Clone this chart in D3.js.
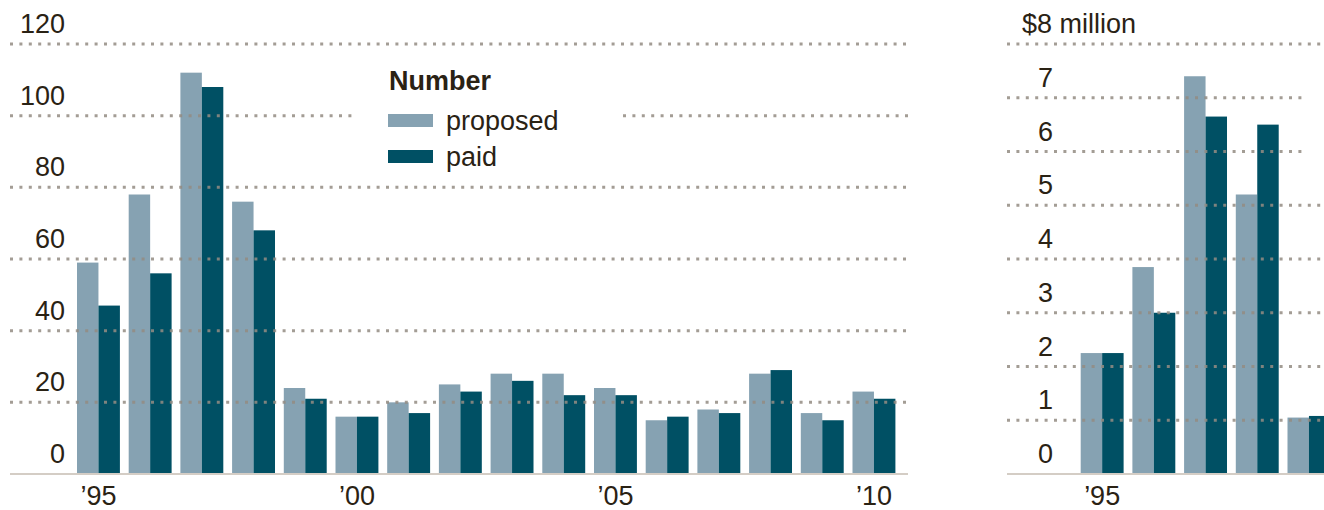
<!DOCTYPE html>
<html>
<head>
<meta charset="utf-8">
<script src="https://cdn.jsdelivr.net/npm/d3@7"></script>
<style>
  body { margin: 0; background: #fff; }
  svg text { font-family: "Liberation Sans", Arial, sans-serif; fill: #2a2214; }
</style>
</head>
<body>
<div id="chart"></div>
<script>
// data
let years = [1995, 1996, 1997, 1998, 1999, 2000, 2001, 2002, 2003, 2004, 2005, 2006, 2007, 2008, 2009, 2010];
let proposedCount = [59, 78, 112, 76, 24, 16, 20, 25, 28, 28, 24, 15, 18, 28, 17, 23];
let paidCount = [47, 56, 108, 68, 21, 16, 17, 23, 26, 22, 22, 16, 17, 29, 15, 21];

// right panel is cut off by the frame: only the first years show
let moneyYears = [1995, 1996, 1997, 1998, 1999];
let proposedMoney = [2.25, 3.85, 7.4, 5.2, 1.05];
let paidMoney = [2.25, 3.0, 6.65, 6.5, 1.08];

let countTicks = [0, 20, 40, 60, 80, 100, 120];
let moneyTicks = [0, 1, 2, 3, 4, 5, 6, 7, 8];
let yearTicks = [1995, 2000, 2005, 2010];
let series = ["proposed", "paid"];
let colors = { proposed: "#86a2b2", paid: "#005064" };

let width = 1324, height = 510;
let fontSize = 27;
let svg = d3.select("#chart").append("svg")
    .attr("width", width)
    .attr("height", height);

let gridColor = "#948c83";
let fmtYear = d => "\u2019" + String(d).slice(2);

function gridLine(g, x1, x2, yy) {
    g.append("line")
        .attr("x1", x1).attr("x2", x2)
        .attr("y1", yy).attr("y2", yy)
        .attr("stroke", gridColor)
        .attr("stroke-width", 3)
        .attr("stroke-dasharray", "3,6.4")
        .attr("opacity", 0.85);
}

function panel(opts) {
    let x = d3.scaleBand().domain(years)
        .range([opts.x0, opts.x0 + years.length * 51.7])
        .paddingInner(0.17).paddingOuter(0.085);
    let x1 = d3.scaleBand().domain(series).range([0, x.bandwidth()]);
    let y = d3.scaleLinear().domain(opts.yDomain).range([474, 44]);

    let rows = opts.cats.map((c, i) => ({ year: c, proposed: opts.proposed[i], paid: opts.paid[i] }));

    let g = svg.append("g");

    // bars
    g.selectAll("g.year")
        .data(rows)
        .enter().append("g")
        .attr("transform", d => `translate(${x(d.year)},0)`)
        .selectAll("rect")
        .data(d => series.map(s => ({ key: s, value: d[s] })))
        .enter().append("rect")
        .attr("x", d => x1(d.key))
        .attr("width", x1.bandwidth())
        .attr("y", d => y(d.value))
        .attr("height", d => y(0) - y(d.value))
        .attr("fill", d => colors[d.key]);

    // dotted gridlines, on top of the bars
    opts.ticks.filter(t => t > 0).forEach(t => {
        let segs = (opts.gridSegs && opts.gridSegs[t]) || [[opts.gridX0, opts.gridX1]];
        segs.forEach(s => gridLine(g, s[0], s[1], y(t)));
    });

    // baseline
    g.append("line")
        .attr("x1", opts.gridX0).attr("x2", opts.gridX1)
        .attr("y1", y(0)).attr("y2", y(0))
        .attr("stroke", "#d4cdc5")
        .attr("stroke-width", 2);

    // y tick labels
    g.selectAll("text.ytick")
        .data(opts.ticks)
        .enter().append("text")
        .attr("x", opts.labelX)
        .attr("y", d => y(d) - 11)
        .attr("text-anchor", "end")
        .attr("font-size", fontSize)
        .text(d => opts.tickText(d));

    // x tick labels
    g.selectAll("text.xtick")
        .data(opts.xTicks)
        .enter().append("text")
        .attr("x", d => x(d) + x.bandwidth() / 2)
        .attr("y", 505)
        .attr("text-anchor", "middle")
        .attr("font-size", fontSize)
        .text(fmtYear);

    return { g: g, y: y };
}

panel({
    x0: 72.6,
    yDomain: [0, 120],
    cats: years,
    proposed: proposedCount,
    paid: paidCount,
    ticks: countTicks,
    tickText: d => d,
    labelX: 65,
    gridX0: 10, gridX1: 908,
    gridSegs: { 100: [[10, 353], [623, 908]] },
    xTicks: yearTicks
});

let right = panel({
    x0: 1076.3,
    yDomain: [0, 8],
    cats: moneyYears,
    proposed: proposedMoney,
    paid: paidMoney,
    ticks: moneyTicks.filter(t => t < 8),
    tickText: d => d,
    labelX: 1053,
    gridX0: 1007, gridX1: 1324,
    gridSegs: { 6: [[1007, 1302]], 7: [[1007, 1302]] },
    xTicks: [1995]
});

// top money gridline and its label
gridLine(right.g, 1007, 1324, right.y(8));
right.g.append("text")
    .attr("x", 1022).attr("y", right.y(8) - 11)
    .attr("font-size", fontSize)
    .text("$8 million");

// legend
let legend = svg.append("g").attr("transform", "translate(388,0)");
legend.append("text")
    .attr("x", 1).attr("y", 90)
    .attr("font-size", fontSize).attr("font-weight", "bold")
    .text("Number");
legend.selectAll("rect.sw")
    .data(series)
    .enter().append("rect")
    .attr("x", 0)
    .attr("y", (d, i) => 114 + i * 36)
    .attr("width", 45).attr("height", 13)
    .attr("fill", d => colors[d]);
legend.selectAll("text.lab")
    .data(series)
    .enter().append("text")
    .attr("x", 58)
    .attr("y", (d, i) => 130 + i * 36)
    .attr("font-size", fontSize)
    .text(d => d);
</script>
</body>
</html>
